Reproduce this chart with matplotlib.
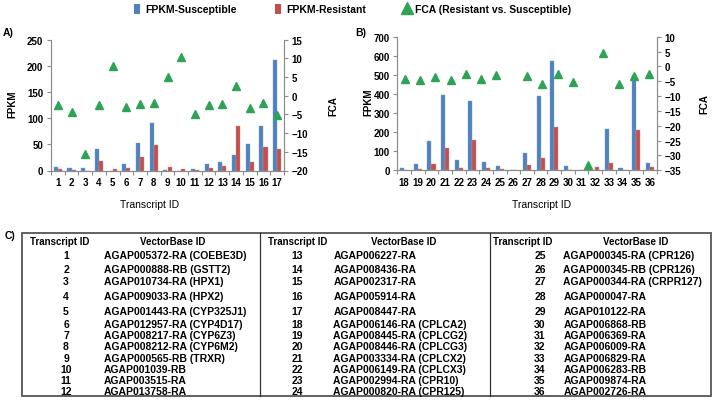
import numpy as np
import matplotlib
matplotlib.use("Agg")
import matplotlib.pyplot as plt
from matplotlib.patches import Patch, Rectangle
from matplotlib.lines import Line2D

# panel A: transcripts 1-17
ids_a = [str(i) for i in range(1, 18)]
sus_a = [7, 4, 4, 42, 0, 13, 52, 90, 1, 0, 3, 11.5, 16, 29, 51, 85, 212]
res_a = [3, 0.5, 0, 18, 2, 4.5, 25, 48, 7, 2.5, 0.5, 5, 8, 85, 16, 45, 42]
fca_a = [-2.4, -4.4, -15.7, -2.4, 8.0, -2.9, -2.2, -2.0, 4.9, 10.4, -4.9, -2.4, -2.2, 2.7, -3.3, -2.0, -5.1]

# panel B: transcripts 18-36
ids_b = [str(i) for i in range(18, 37)]
sus_b = [10, 35, 155, 395, 56, 364, 45, 23, 0, 89, 387, 575, 21, 0, 2, 214, 12, 500, 38]
res_b = [3, 9, 35, 118, 12, 160, 10, 9, 0, 28, 64, 228, 3, 0, 19, 37, 3, 213, 16]
# FCA series in B sits on its own 17-slot category axis (one slot empty)
fca_b = [-4.3, -4.6, -3.5, -4.75, -2.4, -4.4, -3.0, np.nan, -3.2, -6.0, -2.7, -5.3,
         -33.3, 4.6, -6.0, -3.3, -2.5]

# panel C table
transcript_ids = [str(i) for i in range(1, 37)]
vectorbase_ids = [
    "AGAP005372-RA (COEBE3D)", "AGAP000888-RB (GSTT2)", "AGAP010734-RA (HPX1)",
    "AGAP009033-RA (HPX2)", "AGAP001443-RA (CYP325J1)", "AGAP012957-RA (CYP4D17)",
    "AGAP008217-RA (CYP6Z3)", "AGAP008212-RA (CYP6M2)", "AGAP000565-RB (TRXR)",
    "AGAP001039-RB", "AGAP003515-RA", "AGAP013758-RA",
    "AGAP006227-RA", "AGAP008436-RA", "AGAP002317-RA",
    "AGAP005914-RA", "AGAP008447-RA", "AGAP006146-RA (CPLCA2)",
    "AGAP008445-RA (CPLCG2)", "AGAP008446-RA (CPLCG3)", "AGAP003334-RA (CPLCX2)",
    "AGAP006149-RA (CPLCX3)", "AGAP002994-RA (CPR10)", "AGAP000820-RA (CPR125)",
    "AGAP000345-RA (CPR126)", "AGAP000345-RB (CPR126)", "AGAP000344-RA (CRPR127)",
    "AGAP000047-RA", "AGAP010122-RA", "AGAP006868-RB",
    "AGAP006369-RA", "AGAP006009-RA", "AGAP006829-RA",
    "AGAP006283-RB", "AGAP009874-RA", "AGAP002726-RA",
]

BLUE = '#4f81bd'
RED = '#c0504d'
GREEN = '#2ea356'
GREY = '#8c8c8c'

plt.rcParams['font.family'] = ['Liberation Sans', 'DejaVu Sans']
plt.rcParams['font.weight'] = 'bold'
plt.rcParams['font.size'] = 7


def style_axis(ax):
    for s in ['left', 'right', 'bottom']:
        ax.spines[s].set_color(GREY)
        ax.spines[s].set_linewidth(0.8)
    ax.spines['top'].set_visible(False)
    ax.tick_params(axis='y', colors=GREY, length=3, width=0.8, pad=2.5, labelcolor='black')


def draw_panel(fig, rect, ids, sus, res, ymax, ystep, fmin, fmax):
    ax = fig.add_axes(rect)
    x = np.arange(len(ids))
    ax.bar(x - 0.15, sus, width=0.3, color=BLUE, edgecolor='#7fa3d1', linewidth=0.3)
    ax.bar(x + 0.15, res, width=0.3, color=RED, edgecolor='#d98a88', linewidth=0.3)
    ax.set_xlim(-0.5, len(ids) - 0.5)
    ax.set_ylim(0, ymax)
    ax.set_yticks(np.arange(0, ymax + 1, ystep))
    ax.set_xticks(x, ids)
    ax.set_xticks(np.arange(-0.5, len(ids)), minor=True)
    ax.tick_params(axis='x', which='major', length=0, pad=5)
    ax.tick_params(axis='x', which='minor', length=3, width=0.8, colors=GREY)
    style_axis(ax)
    ax2 = ax.twinx()
    ax2.set_ylim(fmin, fmax)
    ax2.set_yticks(np.arange(fmin, fmax + 1, 5))
    style_axis(ax2)
    return ax, ax2


fig = plt.figure(figsize=(7.14, 4.10), dpi=100)
W, H = 714.0, 410.0

# Panel A
axA, axA2 = draw_panel(fig, [51 / W, 1 - 171.5 / H, 233 / W, 130.8 / H],
                       ids_a, sus_a, res_a, 250, 50, -20, 15)
axA2.plot(np.arange(len(ids_a)), fca_a, linestyle='none', marker='^',
          ms=6, color=GREEN, mec=GREEN)

# Panel B
axB, axB2 = draw_panel(fig, [397.3 / W, 1 - 171.3 / H, 259.4 / W, 133.6 / H],
                       ids_b, sus_b, res_b, 700, 100, -35, 10)
axB3 = axB2.twiny()
axB3.set_xlim(-0.5, len(fca_b) - 0.5)
axB3.xaxis.set_visible(False)
for s in axB3.spines.values():
    s.set_visible(False)
axB3.plot(np.arange(len(fca_b)), fca_b, linestyle='none', marker='^',
          ms=6, color=GREEN, mec=GREEN)

# axis labels and panel letters
fig.text(12.5 / W, 1 - 104 / H, 'FPKM', rotation=90, ha='center', va='center', fontsize=7)
fig.text(333 / W, 1 - 106 / H, 'FCA', rotation=90, ha='center', va='center', fontsize=7)
fig.text(368 / W, 1 - 102 / H, 'FPKM', rotation=90, ha='center', va='center', fontsize=7)
fig.text(704 / W, 1 - 104 / H, 'FCA', rotation=90, ha='center', va='center', fontsize=7)
fig.text(150 / W, 1 - 205 / H, 'Transcript ID', ha='center', va='center',
         fontsize=7.5, fontweight='normal')
fig.text(542 / W, 1 - 205 / H, 'Transcript ID', ha='center', va='center',
         fontsize=7.5, fontweight='normal')
fig.text(3 / W, 1 - 33 / H, 'A)', ha='left', va='center', fontsize=7.5)
fig.text(355 / W, 1 - 33 / H, 'B)', ha='left', va='center', fontsize=7.5)
fig.text(5 / W, 1 - 236 / H, 'C)', ha='left', va='center', fontsize=7.5)

# legend
handles = [Patch(facecolor=BLUE, edgecolor='none'),
           Patch(facecolor=RED, edgecolor='none'),
           Line2D([], [], linestyle='none', marker='^', ms=9, color=GREEN)]
labels = ['FPKM-Susceptible', 'FPKM-Resistant', 'FCA (Resistant vs. Susceptible)']
fig.legend(handles, labels, loc='center', bbox_to_anchor=(0.494, 1 - 10 / H), ncol=3,
           frameon=False, fontsize=7.5, handlelength=0.55, handleheight=1.2,
           handletextpad=0.5, columnspacing=3.7)

# Panel C table
axT = fig.add_axes([0, 0, 1, 1], zorder=-1)
axT.set_xlim(0, W)
axT.set_ylim(H, 0)
axT.axis('off')
axT.add_patch(Rectangle((21.7, 234.3), 711 - 21.7, 397.3 - 234.3, fill=False,
                        edgecolor='#555555', linewidth=1.3))
for xv in [260, 490]:
    axT.plot([xv, xv], [234.3, 397.3], color='#333333', linewidth=0.9)

num_x = [66, 297.5, 540]
head_num_x = [59.5, 298, 523]
text_x = [104, 333.3, 563.3]
head_text_x = [172.5, 404, 636]
row_y = [255.7, 270, 281.7, 296.7, 311.7, 325, 335.7, 347.3, 359, 370, 381, 391.7]
for b in range(3):
    axT.text(head_num_x[b], 242.3, 'Transcript ID', ha='center', va='center', fontsize=7)
    axT.text(head_text_x[b], 242.3, 'VectorBase ID', ha='center', va='center', fontsize=7)
    for r in range(12):
        k = b * 12 + r
        axT.text(num_x[b], row_y[r], transcript_ids[k], ha='center', va='center', fontsize=7.5)
        axT.text(text_x[b], row_y[r], vectorbase_ids[k], ha='left', va='center', fontsize=7.5)

fig.savefig('out.png', dpi=100)
